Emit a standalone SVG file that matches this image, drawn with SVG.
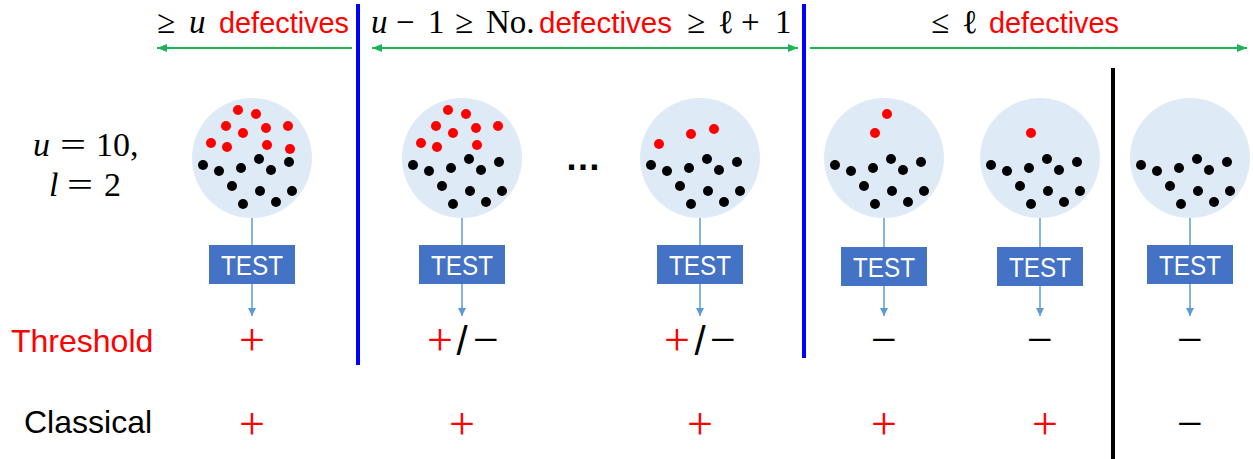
<svg xmlns="http://www.w3.org/2000/svg" xmlns:xlink="http://www.w3.org/1999/xlink" width="1253" height="459" viewBox="0 0 1253 459">
<style>
.pool{fill:#DEEBF7}
.r{fill:#FF0000}
.k{fill:#000}
.box{fill:#4472C4}
.bt{font-family:"Liberation Sans",Arial,sans-serif;font-size:28px;fill:#fff;text-anchor:middle}
.conn{stroke:#5B9BD5;stroke-width:1.5;fill:none}
.grn{stroke:#1DB454;stroke-width:2;fill:none}
.sans{font-family:"Liberation Sans",Arial,sans-serif}
.serif{font-family:"Liberation Serif","DejaVu Serif",serif}
.red{fill:#FF0000}
.sym{font-family:"Liberation Serif","DejaVu Serif",serif;font-size:46px;text-anchor:middle}
.sl{font-family:"Liberation Sans",Arial,sans-serif}
.top{font-size:33px}
.def{font-family:"Liberation Sans",Arial,sans-serif;font-size:29px;fill:#FF0000}
</style>
<defs>
<marker id="ah" markerUnits="userSpaceOnUse" markerWidth="10" markerHeight="10" refX="8" refY="4" orient="auto">
<path d="M0,0 L8,4 L0,8 Z" fill="#5B9BD5"/>
</marker>
<marker id="gh" markerUnits="userSpaceOnUse" markerWidth="12" markerHeight="10" refX="10" refY="4" orient="auto-start-reverse">
<path d="M0,0 L10,4 L0,8 Z" fill="#1DB454"/>
</marker>
<g id="blk">
<circle class="k" cx="-49" cy="7" r="5"/><circle class="k" cx="-33" cy="13" r="5"/><circle class="k" cx="-11" cy="10" r="5"/>
<circle class="k" cx="7" cy="1" r="5"/><circle class="k" cx="19" cy="12" r="5"/><circle class="k" cx="37" cy="4" r="5"/>
<circle class="k" cx="-20" cy="28" r="5"/><circle class="k" cx="8" cy="33" r="5"/><circle class="k" cx="40" cy="33" r="5"/>
<circle class="k" cx="-9" cy="46" r="5"/><circle class="k" cx="24" cy="44" r="5"/>
</g>
<g id="red9">
<circle class="r" cx="-14" cy="-48" r="5"/><circle class="r" cx="4" cy="-44" r="5"/><circle class="r" cx="-26" cy="-32" r="5"/>
<circle class="r" cx="-9" cy="-25" r="5"/><circle class="r" cx="14" cy="-30" r="5"/><circle class="r" cx="36" cy="-32" r="5"/>
<circle class="r" cx="-41" cy="-15" r="5"/><circle class="r" cx="-25" cy="-11" r="5"/><circle class="r" cx="15" cy="-13" r="5"/>
</g>
</defs>
<rect width="1253" height="459" fill="#fff"/>

<!-- header labels -->
<g id="hdr1">
<text y="33" class="serif top"><tspan x="157">≥</tspan><tspan x="189" font-style="italic">u</tspan></text>
<text x="219" y="33" class="def" textLength="130" lengthAdjust="spacingAndGlyphs">defectives</text>
</g>
<g id="hdr2">
<text y="33" class="serif top"><tspan x="371" font-style="italic">u</tspan><tspan x="396">−</tspan><tspan x="428">1</tspan><tspan x="455">≥</tspan><tspan x="486">No.</tspan></text>
<text x="539" y="33" class="def" textLength="133" lengthAdjust="spacingAndGlyphs">defectives</text>
<text y="33" class="serif top"><tspan x="687">≥</tspan><tspan x="718">ℓ</tspan><tspan x="741">+</tspan><tspan x="775">1</tspan></text>
</g>
<g id="hdr3">
<text y="33" class="serif top"><tspan x="931">≤</tspan><tspan x="962">ℓ</tspan></text>
<text x="989" y="33" class="def" textLength="130" lengthAdjust="spacingAndGlyphs">defectives</text>
</g>

<!-- separators -->
<g id="separators">
<line x1="358" y1="4" x2="358" y2="365" stroke="#0000FF" stroke-width="4"/>
<line x1="804" y1="4" x2="804" y2="358" stroke="#0000FF" stroke-width="4"/>
<line x1="1113" y1="68" x2="1113" y2="459" stroke="#000" stroke-width="4"/>
</g>

<!-- left labels -->
<g id="params">
<text y="156" class="serif" font-size="34"><tspan x="33" font-style="italic">u</tspan><tspan x="60" textLength="26" lengthAdjust="spacingAndGlyphs">=</tspan><tspan x="96">10,</tspan></text>
<text y="196" class="serif" font-size="34"><tspan x="49" font-style="italic">l</tspan><tspan x="67" textLength="26" lengthAdjust="spacingAndGlyphs">=</tspan><tspan x="104">2</tspan></text>
</g>
<text id="lbl-threshold" x="11" y="352" class="sans red" font-size="32">Threshold</text>
<text id="lbl-classical" x="24" y="433" class="sans" font-size="32">Classical</text>

<!-- pools -->
<g id="pool1"><circle class="pool" cx="252" cy="158" r="60"/><use xlink:href="#blk" x="252" y="158"/><use xlink:href="#red9" x="252" y="158"/><circle class="r" cx="290" cy="149" r="5"/></g>
<g id="pool2"><circle class="pool" cx="462" cy="158" r="60"/><use xlink:href="#blk" x="462" y="158"/><use xlink:href="#red9" x="462" y="158"/></g>
<text id="ellipsis" x="583" y="170" class="sans" font-size="36" font-weight="bold" text-anchor="middle">…</text>
<g id="pool3"><circle class="pool" cx="700" cy="158" r="60"/><use xlink:href="#blk" x="700" y="158"/><circle class="r" cx="659" cy="144" r="5"/><circle class="r" cx="691" cy="134" r="5"/><circle class="r" cx="714" cy="129" r="5"/></g>
<g id="pool4"><circle class="pool" cx="884" cy="158" r="60"/><use xlink:href="#blk" x="884" y="158"/><circle class="r" cx="887" cy="114" r="5"/><circle class="r" cx="875" cy="133" r="5"/></g>
<g id="pool5"><circle class="pool" cx="1040" cy="158" r="60"/><use xlink:href="#blk" x="1040" y="158"/><circle class="r" cx="1031" cy="133" r="5"/></g>
<g id="pool6"><circle class="pool" cx="1190" cy="158" r="60"/><use xlink:href="#blk" x="1190" y="158"/></g>

<!-- tests -->
<g id="test1"><rect class="box" x="209" y="245" width="86" height="39"/><text class="bt" x="252" y="275" textLength="62" lengthAdjust="spacingAndGlyphs">TEST</text></g>
<g id="test2"><rect class="box" x="419" y="245" width="86" height="39"/><text class="bt" x="462" y="275" textLength="62" lengthAdjust="spacingAndGlyphs">TEST</text></g>
<g id="test3"><rect class="box" x="657" y="245" width="86" height="39"/><text class="bt" x="700" y="275" textLength="62" lengthAdjust="spacingAndGlyphs">TEST</text></g>
<g id="test4"><rect class="box" x="841" y="247" width="86" height="39"/><text class="bt" x="884" y="277" textLength="62" lengthAdjust="spacingAndGlyphs">TEST</text></g>
<g id="test5"><rect class="box" x="997" y="247" width="86" height="39"/><text class="bt" x="1040" y="277" textLength="62" lengthAdjust="spacingAndGlyphs">TEST</text></g>
<g id="test6"><rect class="box" x="1147" y="245" width="86" height="39"/><text class="bt" x="1190" y="275" textLength="62" lengthAdjust="spacingAndGlyphs">TEST</text></g>

<!-- connectors -->
<g id="connectors">
<line class="conn" x1="252" y1="218" x2="252" y2="245"/><line class="conn" x1="252" y1="284" x2="252" y2="316" marker-end="url(#ah)"/>
<line class="conn" x1="462" y1="218" x2="462" y2="245"/><line class="conn" x1="462" y1="284" x2="462" y2="316" marker-end="url(#ah)"/>
<line class="conn" x1="700" y1="218" x2="700" y2="245"/><line class="conn" x1="700" y1="284" x2="700" y2="316" marker-end="url(#ah)"/>
<line class="conn" x1="884" y1="218" x2="884" y2="247"/><line class="conn" x1="884" y1="286" x2="884" y2="316" marker-end="url(#ah)"/>
<line class="conn" x1="1040" y1="218" x2="1040" y2="247"/><line class="conn" x1="1040" y1="286" x2="1040" y2="316" marker-end="url(#ah)"/>
<line class="conn" x1="1190" y1="218" x2="1190" y2="245"/><line class="conn" x1="1190" y1="284" x2="1190" y2="316" marker-end="url(#ah)"/>
<line class="grn" x1="157" y1="48" x2="352" y2="48" marker-start="url(#gh)"/>
<line class="grn" x1="372" y1="48" x2="798" y2="48" marker-start="url(#gh)" marker-end="url(#gh)"/>
<line class="grn" x1="810" y1="48" x2="1247" y2="48" marker-end="url(#gh)"/>
</g>

<!-- outcomes -->
<g id="threshold-row">
<text class="sym red" x="252" y="355">+</text>
<text class="sym" y="355"><tspan x="440" fill="#FF0000">+</tspan><tspan x="462" class="sl" font-size="40">/</tspan><tspan x="486">−</tspan></text>
<text class="sym" y="355"><tspan x="677" fill="#FF0000">+</tspan><tspan x="700" class="sl" font-size="40">/</tspan><tspan x="723">−</tspan></text>
<text class="sym" x="884" y="355">−</text>
<text class="sym" x="1040" y="355">−</text>
<text class="sym" x="1190" y="355">−</text>
</g>
<g id="classical-row">
<text class="sym red" x="252" y="439">+</text>
<text class="sym red" x="462" y="439">+</text>
<text class="sym red" x="700" y="439">+</text>
<text class="sym red" x="884" y="439">+</text>
<text class="sym red" x="1045" y="439">+</text>
<text class="sym" x="1190" y="439">−</text>
</g>
</svg>
